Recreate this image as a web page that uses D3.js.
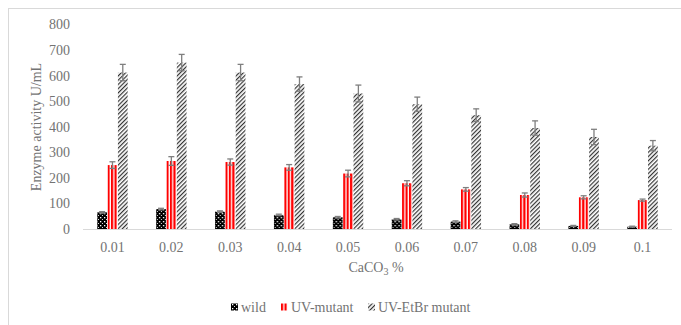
<!DOCTYPE html>
<html>

<head>
    <meta charset="utf-8">
    <style>
        body { margin: 0; background: #fff; }
        text { font-family: "Liberation Serif", serif; fill: #737373; }
    </style>
    <script src="https://cdnjs.cloudflare.com/ajax/libs/d3/7.8.5/d3.min.js"></script>
    <title>Enzyme activity vs CaCO3</title>
</head>

<body>
    <div id="chart"></div>

    <script>

        // data
        var categories = ["0.01", "0.02", "0.03", "0.04", "0.05", "0.06", "0.07", "0.08", "0.09", "0.1"];
        var seriesNames = ["wild", "UV-mutant", "UV-EtBr mutant"];
        var wild = [65, 78, 68, 55, 46, 38, 29, 18, 12, 9];
        var wildErr = [3, 3, 3, 3, 3, 3, 3, 3, 2, 2];
        var uvMutant = [250, 266, 262, 241, 217, 179, 155, 133, 124, 113];
        var uvMutantErr = [13, 17, 12, 11, 13, 10, 7, 8, 6, 4];
        var etbrMutant = [612, 651, 612, 567, 530, 488, 445, 395, 360, 326];
        var etbrMutantErr = [32, 32, 32, 28, 33, 28, 25, 28, 30, 20];
        var yTicks = [0, 100, 200, 300, 400, 500, 600, 700, 800];

        var width = 681, height = 325;

        var svg = d3.select("#chart")
            .append("svg")
            .attr("width", width)
            .attr("height", height);

        // patterns for the three fills
        var defs = svg.append("defs");

        var pDots = defs.append("pattern").attr("id", "dots")
            .attr("patternUnits", "userSpaceOnUse").attr("width", 4).attr("height", 4);
        pDots.append("rect").attr("width", 4).attr("height", 4).attr("fill", "#000");
        pDots.append("rect").attr("x", 1).attr("y", 1).attr("width", 1.3).attr("height", 1.3).attr("fill", "#fff");
        pDots.append("rect").attr("x", 3).attr("y", 3).attr("width", 1).attr("height", 1).attr("fill", "#ddd");

        var pStripes = defs.append("pattern").attr("id", "stripes")
            .attr("patternUnits", "userSpaceOnUse").attr("width", 3.5).attr("height", 4);
        pStripes.append("rect").attr("width", 3.5).attr("height", 4).attr("fill", "#fff");
        pStripes.append("rect").attr("width", 2.2).attr("height", 4).attr("fill", "#ff0000");

        var pHatch = defs.append("pattern").attr("id", "hatch")
            .attr("patternUnits", "userSpaceOnUse").attr("width", 3).attr("height", 3)
            .attr("patternTransform", "rotate(45)");
        pHatch.append("rect").attr("width", 3).attr("height", 3).attr("fill", "#fff");
        pHatch.append("rect").attr("width", 1.2).attr("height", 3).attr("fill", "#333");

        var fills = ["url(#dots)", "url(#stripes)", "url(#hatch)"];
        var values = [wild, uvMutant, etbrMutant];
        var errors = [wildErr, uvMutantErr, etbrMutantErr];

        // outer border of the chart area
        svg.append("rect")
            .attr("x", 8.5).attr("y", 8.5)
            .attr("width", 700).attr("height", 340)
            .attr("fill", "none").attr("stroke", "#d9d9d9");

        // scales
        var x0 = d3.scaleBand().domain(categories).range([83, 672]);
        var x1 = d3.scaleBand().domain(d3.range(3)).range([0, x0.bandwidth()]).paddingOuter(1.35);
        var y = d3.scaleLinear().domain([0, 800]).range([229, 24.5]);

        // y tick labels (no axis line)
        svg.append("g")
            .selectAll("text")
            .data(yTicks)
            .enter()
            .append("text")
            .attr("x", 70)
            .attr("y", function (d) { return y(d); })
            .attr("dy", "0.35em")
            .attr("text-anchor", "end")
            .style("font-size", "14px")
            .text(function (d) { return d; });

        // bars
        var groups = svg.append("g")
            .selectAll("g")
            .data(categories)
            .enter()
            .append("g")
            .attr("transform", function (d) { return "translate(" + x0(d) + ",0)"; });

        groups.selectAll("rect")
            .data(function (d, i) { return [0, 1, 2].map(function (s) { return { s: s, v: values[s][i], e: errors[s][i] }; }); })
            .enter()
            .append("rect")
            .attr("x", function (d) { return x1(d.s) + 0.3; })
            .attr("y", function (d) { return y(d.v); })
            .attr("width", x1.bandwidth() - 0.6)
            .attr("height", function (d) { return y(0) - y(d.v); })
            .attr("fill", function (d) { return fills[d.s]; });

        // error bars
        var eb = groups.selectAll("g.err")
            .data(function (d, i) { return [0, 1, 2].map(function (s) { return { s: s, v: values[s][i], e: errors[s][i] }; }); })
            .enter()
            .append("g")
            .attr("class", "err")
            .attr("stroke", "#7f7f7f")
            .attr("stroke-width", 1.3);
        eb.append("line")
            .attr("x1", function (d) { return x1(d.s) + x1.bandwidth() / 2; })
            .attr("x2", function (d) { return x1(d.s) + x1.bandwidth() / 2; })
            .attr("y1", function (d) { return y(d.v - d.e); })
            .attr("y2", function (d) { return y(d.v + d.e); });
        [-1, 1].forEach(function (k) {
            eb.append("line")
                .attr("x1", function (d) { return x1(d.s) + x1.bandwidth() / 2 - 3; })
                .attr("x2", function (d) { return x1(d.s) + x1.bandwidth() / 2 + 3; })
                .attr("y1", function (d) { return y(d.v + k * d.e); })
                .attr("y2", function (d) { return y(d.v + k * d.e); });
        });

        // x axis line and labels
        svg.append("line")
            .attr("x1", 83).attr("x2", 672)
            .attr("y1", y(0) + 0.5).attr("y2", y(0) + 0.5)
            .attr("stroke", "#d9d9d9").attr("stroke-width", 1.2);

        svg.append("g")
            .selectAll("text")
            .data(categories)
            .enter()
            .append("text")
            .attr("x", function (d) { return x0(d) + x0.bandwidth() / 2; })
            .attr("y", 247)
            .attr("dy", "0.35em")
            .attr("text-anchor", "middle")
            .style("font-size", "14px")
            .text(function (d) { return d; });

        // axis titles
        var xt = svg.append("text")
            .attr("x", 376).attr("y", 267).attr("dy", "0.35em")
            .attr("text-anchor", "middle")
            .style("font-size", "14px");
        xt.append("tspan").text("CaCO");
        xt.append("tspan").attr("dy", "3").style("font-size", "10px").text("3");
        xt.append("tspan").attr("dy", "-3").text(" %");

        svg.append("text")
            .attr("transform", "translate(36,127) rotate(-90)")
            .attr("dy", "0.35em")
            .attr("text-anchor", "middle")
            .style("font-size", "14px")
            .text("Enzyme activity U/mL");

        // legend
        var legendX = [231, 281, 368];
        var leg = svg.append("g")
            .selectAll("g")
            .data(seriesNames)
            .enter()
            .append("g")
            .attr("transform", function (d, i) { return "translate(" + legendX[i] + ",307)"; });
        leg.append("rect")
            .attr("x", 0).attr("y", -3.5)
            .attr("width", 7).attr("height", 7)
            .attr("fill", function (d, i) { return fills[i]; });
        leg.append("text")
            .attr("x", 10).attr("dy", "0.35em")
            .style("font-size", "14px")
            .text(function (d) { return d; });

    </script>

</body>

</html>
